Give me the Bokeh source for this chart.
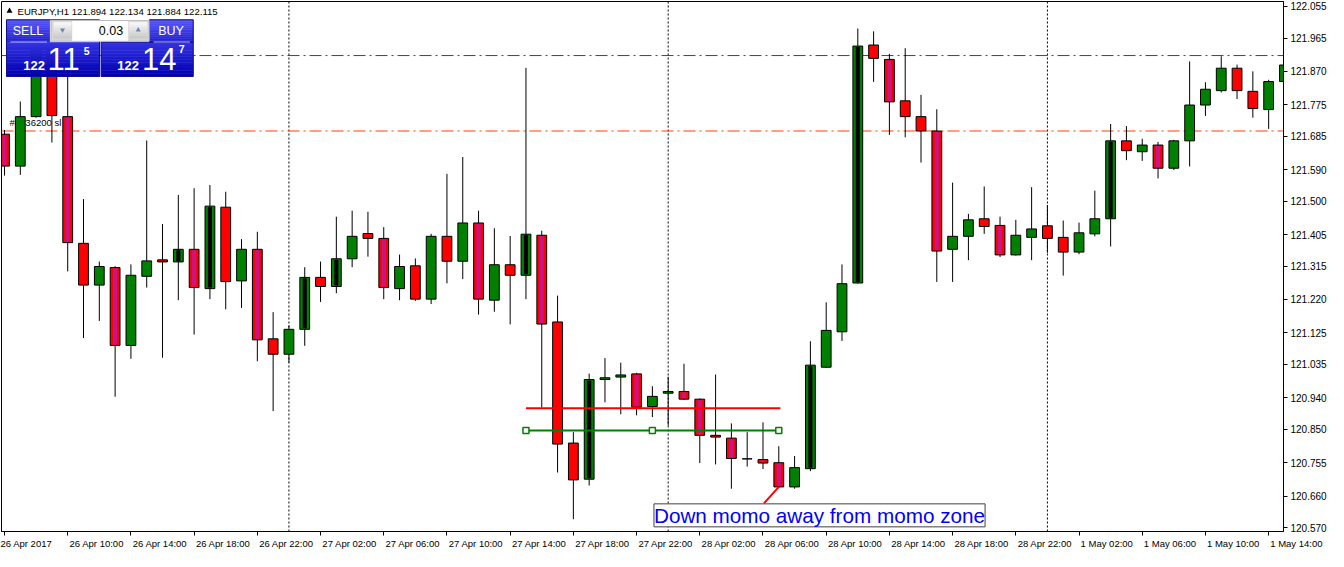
import numpy as np
from bokeh.plotting import figure
from bokeh.models import Range1d, LinearAxis, FixedTicker, PrintfTickFormatter, Label, Span
from bokeh.core.properties import value
from bokeh.embed import file_html
from bokeh.resources import INLINE

# ---------------- data ----------------
title_text = "EURJPY,H1  121.894 122.134 121.884 122.115"

time_labels = ["26 Apr 2017", "26 Apr 10:00", "26 Apr 14:00", "26 Apr 18:00", "26 Apr 22:00",
               "27 Apr 02:00", "27 Apr 06:00", "27 Apr 10:00", "27 Apr 14:00", "27 Apr 18:00",
               "27 Apr 22:00", "28 Apr 02:00", "28 Apr 06:00", "28 Apr 10:00", "28 Apr 14:00",
               "28 Apr 18:00", "28 Apr 22:00", "1 May 02:00", "1 May 06:00", "1 May 10:00",
               "1 May 14:00"]
label_bars = list(range(0, 81, 4))

opens = [121.691, 121.600, 121.741, 121.935, 121.741, 121.380, 121.261, 121.311, 121.089, 121.286,
         121.333, 121.327, 121.363, 121.251, 121.483, 121.273, 121.363, 121.108, 121.064, 121.135,
         121.283, 121.257, 121.336, 121.408, 121.394, 121.251, 121.316, 121.221, 121.400, 121.329,
         121.438, 121.218, 121.319, 121.289, 121.403, 121.156, 120.811, 120.708, 120.992, 120.999,
         121.008, 120.915, 120.953, 120.958, 120.936, 120.833, 120.825, 120.766, 120.764, 120.755,
         120.686, 120.738, 121.027, 121.128, 121.267, 121.945, 121.904, 121.786, 121.741, 121.700,
         121.363, 121.400, 121.450, 121.431, 121.347, 121.397, 121.430, 121.397, 121.355, 121.407,
         121.450, 121.672, 121.641, 121.660, 121.594, 121.672, 121.774, 121.815, 121.879, 121.813,
         121.761, 121.841]
highs = [121.703, 121.784, 121.960, 121.950, 121.900, 121.506, 121.328, 121.315, 121.320, 121.673,
         121.435, 121.518, 121.537, 121.546, 121.527, 121.392, 121.413, 121.184, 121.146, 121.312,
         121.328, 121.456, 121.473, 121.470, 121.426, 121.348, 121.337, 121.407, 121.578, 121.626,
         121.473, 121.423, 121.401, 121.880, 121.416, 121.231, 120.842, 121.009, 121.053, 121.040,
         121.011, 120.973, 121.000, 121.037, 120.938, 121.006, 120.867, 120.842, 120.870, 120.802,
         120.774, 121.101, 121.212, 121.320, 121.992, 121.984, 121.920, 121.936, 121.803, 121.762,
         121.553, 121.464, 121.542, 121.456, 121.447, 121.540, 121.489, 121.445, 121.439, 121.530,
         121.720, 121.714, 121.678, 121.669, 121.675, 121.898, 121.839, 121.913, 121.889, 121.870,
         121.846, 121.928]
lows = [121.573, 121.575, 121.738, 121.667, 121.300, 121.110, 121.159, 120.943, 121.051, 121.254,
        121.054, 121.218, 121.120, 121.221, 121.192, 121.196, 121.044, 120.902, 121.040, 121.088,
        121.213, 121.238, 121.312, 121.342, 121.221, 121.218, 121.216, 121.207, 121.266, 121.278,
        121.177, 121.185, 121.149, 121.221, 120.912, 120.727, 120.594, 120.690, 120.927, 120.893,
        120.890, 120.885, 120.861, 120.934, 120.754, 120.750, 120.681, 120.744, 120.737, 120.683,
        120.681, 120.731, 121.025, 121.102, 121.265, 121.840, 121.689, 121.682, 121.610, 121.270,
        121.270, 121.332, 121.407, 121.341, 121.345, 121.332, 121.353, 121.288, 121.349, 121.400,
        121.371, 121.617, 121.615, 121.565, 121.589, 121.599, 121.743, 121.810, 121.791, 121.738,
        121.706, 121.829]
closes = [121.600, 121.741, 121.935, 121.744, 121.382, 121.261, 121.314, 121.089, 121.289, 121.330,
          121.327, 121.363, 121.254, 121.486, 121.271, 121.363, 121.105, 121.064, 121.135, 121.283,
          121.257, 121.336, 121.400, 121.394, 121.254, 121.314, 121.221, 121.400, 121.329, 121.438,
          121.221, 121.319, 121.289, 121.406, 121.150, 120.808, 120.706, 120.992, 120.997, 121.005,
          120.913, 120.944, 120.958, 120.936, 120.833, 120.828, 120.767, 120.766, 120.754, 120.686,
          120.741, 121.033, 121.132, 121.265, 121.942, 121.907, 121.783, 121.741, 121.700, 121.358,
          121.400, 121.447, 121.428, 121.347, 121.403, 121.421, 121.394, 121.355, 121.410, 121.450,
          121.672, 121.644, 121.660, 121.594, 121.672, 121.774, 121.819, 121.879, 121.815, 121.764,
          121.841, 121.888]

bear_momentum = [0, 4, 7, 12, 16, 24, 30, 34, 40, 43, 44, 46, 48, 49, 56, 59, 63, 73]
bull_momentum = [11, 13, 19, 21, 33, 37, 51, 54, 70]

price_ticks = [122.055, 121.965, 121.870, 121.775, 121.685, 121.590, 121.500, 121.405, 121.315,
               121.220, 121.125, 121.035, 120.940, 120.850, 120.755, 120.660, 120.570]

resistance_line = 121.915
stop_loss_line = 121.700
stop_loss_label = "#4436200 sl"
day_separators = [18, 42, 66]

zone_top = 120.910
zone_bottom = 120.847
zone_start = 33
zone_end = 49

note_text = "Down momo away from momo zone"
note_x = 41.1
note_y = 120.605
note_from = (48.06, 120.639)
note_bar = 49

lot_text = "0.03"
sell_parts = ("122", "11", "5")
buy_parts = ("122", "14", "7")

# ---------------- layout ----------------
FW, FH = 1282, 530
X0, X1 = -0.19, 80.94
Y0, Y1 = 120.559, 122.069
ux = (X1 - X0) / FW
uy = (Y1 - Y0) / FH


def sx(px):
    return X0 + px * ux


def sy(py):
    return Y1 - py * uy


FONT = "Liberation Sans"

p = figure(frame_width=FW, frame_height=FH, x_range=Range1d(X0, X1), y_range=Range1d(Y0, Y1),
           output_backend="svg", toolbar_location=None, x_axis_location=None,
           y_axis_location="right", min_border_left=1, min_border_top=1,
           min_border_right=45, min_border_bottom=19, background_fill_color="white",
           border_fill_color="white", outline_line_color="black")
p.grid.visible = False

yax = p.yaxis[0]
yax.ticker = FixedTicker(ticks=price_ticks)
yax.formatter = PrintfTickFormatter(format="%.3f")
yax.major_tick_in = 0
yax.major_tick_out = 4
yax.minor_tick_line_color = None
yax.axis_line_color = "black"
yax.major_label_standoff = 3
yax.major_label_text_font = FONT
yax.major_label_text_font_size = "10px"
yax.major_label_text_color = "black"

# bottom axis: labels start just right of their tick (as in the terminal),
# obtained by left-padding each centred label with no-break spaces
XFS = 9.5
CW = {"0": .556, "1": .556, "2": .556, "3": .556, "4": .556, "5": .556, "6": .556, "7": .556,
      "8": .556, "9": .556, " ": .278, ":": .278, "A": .667, "p": .556, "r": .333, "M": .833,
      "a": .556, "y": .5}


def padded(s):
    w = sum(CW.get(ch, .556) for ch in s) * XFS
    n = int(round((w + 4) / (.278 * XFS)))
    return "\u00a0" * n + s


overrides = {b: padded(t) for b, t in zip(label_bars, time_labels)}
# the first label is pushed inside the canvas by the axis itself
overrides[label_bars[0]] = time_labels[0]

xax = LinearAxis(ticker=FixedTicker(ticks=label_bars), major_label_overrides=overrides,
                 major_tick_in=0, major_tick_out=4, minor_tick_line_color=None,
                 axis_line_color="black", major_label_standoff=2,
                 major_label_text_font=FONT, major_label_text_font_size="%spx" % XFS,
                 major_label_text_color="black")
p.add_layout(xax, "below")

# separators and horizontal lines (underlay)
for b in day_separators:
    p.add_layout(Span(location=b, dimension="height", line_color="black", line_width=1,
                      line_dash="2 2", level="underlay"))
p.add_layout(Span(location=resistance_line, dimension="width", line_color="#2F4F4F",
                  line_width=1, line_dash="12 4 2 4", level="underlay"))
p.add_layout(Span(location=stop_loss_line, dimension="width", line_color="#FF4000",
                  line_width=1.2, line_dash="12 4 2 4", level="underlay"))

p.text(x=[sx(8)], y=[stop_loss_line + 3 * uy], text=[stop_loss_label], text_font=value(FONT),
       text_font_size="9.5px", text_baseline="bottom", text_align="left", text_color="black")

# candles
o = np.array(opens)
c = np.array(closes)
h = np.array(highs)
l = np.array(lows)
idx = np.arange(len(o))
top = np.maximum(o, c)
bot = np.minimum(o, c)
cols = ["black" if cc == oo else ("#008000" if cc > oo else "#FF0000") for oo, cc in zip(o, c)]

p.segment(x0=idx, y0=l, x1=idx, y1=h, line_color="black", line_width=1)
p.vbar(x=idx, width=0.62, top=top, bottom=bot, fill_color=cols, line_color="black", line_width=1)

mom = sorted(bear_momentum + bull_momentum)
st_cols = ["#C71585" if c[i] < o[i] else "black" for i in mom]
p.vbar(x=idx[mom], width=0.26, top=top[mom] - uy, bottom=bot[mom] + uy, fill_color=st_cols,
       line_color=None)

# momentum zone lines
p.segment(x0=[zone_start], y0=[zone_top], x1=[zone_end + 0.1], y1=[zone_top],
          line_color="#FF0000", line_width=2)
p.segment(x0=[zone_start], y0=[zone_bottom], x1=[zone_end], y1=[zone_bottom],
          line_color="#008000", line_width=2)
p.scatter(x=[zone_start, (zone_start + zone_end) / 2, zone_end], y=[zone_bottom] * 3,
          marker="square", size=6, fill_color="white", line_color="#008000", line_width=1.5)

# note
p.segment(x0=[note_from[0]], y0=[note_from[1]], x1=[note_bar], y1=[closes[note_bar]],
          line_color="#FF0000", line_width=2)
p.add_layout(Label(x=note_x, y=note_y, text=note_text, text_font=FONT, text_font_size="20.7px",
                   text_color="#0000FF", text_baseline="middle", text_align="left",
                   background_fill_color="white", border_line_color="#404040",
                   border_line_width=1))


# ---------------- trade panel ----------------
def mix(a, b, t):
    return "#%02x%02x%02x" % tuple(int(round(x + (y - x) * t)) for x, y in zip(a, b))


def grad(lft, tp, rgt, bt, ctop, cbot, n=12):
    L, R, T, B, C = [], [], [], [], []
    for k in range(n):
        ya = tp + (bt - tp) * k / n
        yb = tp + (bt - tp) * (k + 1) / n
        L.append(sx(lft)); R.append(sx(rgt)); T.append(sy(ya)); B.append(sy(yb))
        C.append(mix(ctop, cbot, (k + 0.5) / n))
    p.quad(left=L, right=R, top=T, bottom=B, fill_color=C, line_color=C, line_width=0.5)


btn_top, btn_bot = (88, 88, 245), (32, 32, 210)
big_top, big_bot = (52, 52, 228), (0, 0, 176)

grad(5, 18.3, 48.3, 40.7, btn_top, btn_bot)
grad(148, 18.3, 191.7, 40.7, btn_top, btn_bot)
grad(5, 40.7, 98, 75, big_top, big_bot)
grad(99.7, 40.7, 191.7, 75, big_top, big_bot)
p.quad(left=[sx(5), sx(99.7)], right=[sx(98), sx(191.7)], top=[sy(18.3), sy(40.7)],
       bottom=[sy(75), sy(75)], fill_color=None, line_color="#10108a", line_width=1)
p.quad(left=[sx(148)], right=[sx(191.7)], top=[sy(18.3)], bottom=[sy(40.7)], fill_color=None,
       line_color="#10108a", line_width=1)

# lot box
p.quad(left=[sx(49.7)], right=[sx(147.7)], top=[sy(19)], bottom=[sy(39.7)],
       fill_color="#D6D6D6", line_color="#BDBDBD", line_width=1)
p.quad(left=[sx(70.7)], right=[sx(126.7)], top=[sy(19.5)], bottom=[sy(39.2)],
       fill_color="white", line_color=None)
grad(52.3, 20.7, 69.7, 37.3, (250, 250, 250), (200, 200, 200), n=6)
grad(127.7, 20.7, 145.7, 37.3, (250, 250, 250), (200, 200, 200), n=6)
p.scatter(x=[sx(61)], y=[sy(28.5)], marker="inverted_triangle", size=5, fill_color="#6A86B8",
          line_color=None)
p.scatter(x=[sx(136.7)], y=[sy(28.5)], marker="triangle", size=5, fill_color="#6A86B8",
          line_color=None)
p.text(x=[sx(121.7)], y=[sy(28.5)], text=[lot_text], text_font=value(FONT),
       text_font_size="12.5px", text_baseline="middle", text_align="right", text_color="black")

# SELL / BUY labels and underline
p.text(x=[sx(26.5), sx(169.5)], y=[sy(29), sy(29)], text=["SELL", "BUY"], text_font=value(FONT),
       text_font_size="12.5px", text_baseline="middle", text_align="center", text_color="white")
p.segment(x0=[sx(9), sx(152)], y0=[sy(40.5)] * 2, x1=[sx(45.5), sx(188.5)], y1=[sy(40.5)] * 2,
          line_color="#B8B8FF", line_width=1)

# prices
p.text(x=[sx(21.7), sx(115.7)], y=[sy(63.5)] * 2, text=[sell_parts[0], buy_parts[0]],
       text_font=value(FONT), text_font_size="13px", text_font_style="bold",
       text_baseline="middle", text_align="left", text_color="white")
p.text(x=[sx(46), sx(140.5)], y=[sy(57.5)] * 2, text=[sell_parts[1], buy_parts[1]],
       text_font=value(FONT), text_font_size="31px", text_baseline="middle",
       text_align="left", text_color="white")
p.text(x=[sx(82.3), sx(177.3)], y=[sy(49.5), sy(47.2)], text=[sell_parts[2], buy_parts[2]],
       text_font=value(FONT), text_font_size="10.5px", text_font_style="bold",
       text_baseline="middle", text_align="left", text_color="white")

# title
p.scatter(x=[sx(8)], y=[sy(9.5)], marker="triangle", size=6, fill_color="black", line_color=None)
p.text(x=[sx(16)], y=[sy(9.5)], text=[title_text], text_font=value(FONT), text_font_size="9.6px",
       text_baseline="middle", text_align="left", text_color="black")

html = file_html(p, INLINE, "EURJPY,H1")
open("out.html", "w").write(html)
